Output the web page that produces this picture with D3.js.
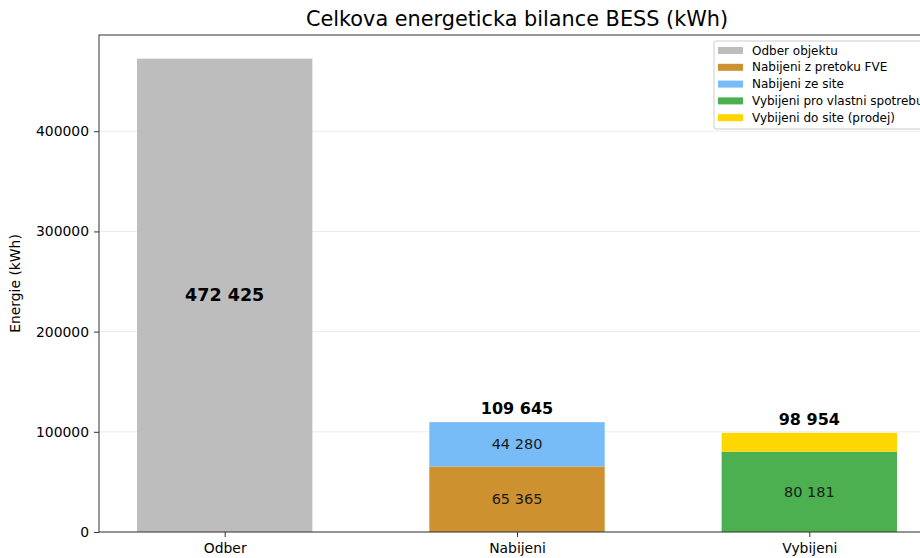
<!DOCTYPE html>
<html>
<head>
    <meta charset="utf-8">
    <title>Celkova energeticka bilance BESS</title>
    <script src="https://d3js.org/d3.v7.min.js"></script>
    <style>
        body { margin: 0; background: #fff; }
        svg { font-family: "DejaVu Sans", sans-serif; display: block; }
    </style>
</head>
<body>
    <script>
        // chart values
        var categories = ["Odber", "Nabijeni", "Vybijeni"];
        var odber = [472425, 0, 0];
        var nabijeniFve = [0, 65365, 0];
        var nabijeniSit = [0, 44280, 0];
        var vybijeniVlastni = [0, 0, 80181];
        var vybijeniProdej = [0, 0, 18773];
        var totals = [472425, 109645, 98954];
        var yTicks = [0, 100000, 200000, 300000, 400000];

        var seriesNames = ["Odber objektu", "Nabijeni z pretoku FVE", "Nabijeni ze site",
            "Vybijeni pro vlastni spotrebu", "Vybijeni do site (prodej)"];
        var seriesColors = ["#bdbdbd", "#cd9130", "#77bbf7", "#4caf50", "#ffd700"];
        var seriesData = [odber, nabijeniFve, nabijeniSit, vybijeniVlastni, vybijeniProdej];

        var width = 920, height = 558;
        // plot area (window.top is reserved, so use own names)
        var pLeft = 99, pTop = 35, pRight = 935, pBottom = 532;

        var svg = d3.select("body").append("svg")
            .attr("width", width)
            .attr("height", height);

        // matplotlib-like x range: bars of width 0.6, 5% margins
        var x = d3.scaleLinear().domain([-0.43, 2.43]).range([pLeft, pRight]);
        var bw = x(0.6) - x(0);
        var y = d3.scaleLinear().domain([0, 472425 * 1.05]).range([pBottom, pTop]);

        // grid
        svg.append("g").selectAll("line")
            .data(yTicks)
            .enter().append("line")
            .attr("x1", pLeft).attr("x2", pRight)
            .attr("y1", function(d) { return y(d); })
            .attr("y2", function(d) { return y(d); })
            .attr("stroke", "#e6e6e6")
            .attr("stroke-width", 0.8);

        // stacked bars
        var stacks = categories.map(function(c, i) {
            var base = 0;
            return seriesData.map(function(s, k) {
                var seg = { cat: i, k: k, y0: base, y1: base + s[i], v: s[i] };
                base += s[i];
                return seg;
            }).filter(function(d) { return d.v > 0; });
        });
        var segs = [].concat.apply([], stacks);

        svg.append("g").selectAll("rect")
            .data(segs)
            .enter().append("rect")
            .attr("x", function(d) { return x(d.cat) - bw / 2; })
            .attr("width", bw)
            .attr("y", function(d) { return y(d.y1); })
            .attr("height", function(d) { return y(d.y0) - y(d.y1); })
            .attr("fill", function(d) { return seriesColors[d.k]; });

        function fmt(v) { return d3.format(",")(v).replace(/,/g, " "); }

        // inner labels on stacked segments (small top segment unlabeled)
        svg.append("g").selectAll("text")
            .data(segs.filter(function(d) { return d.cat > 0 && d.v > 20000; }))
            .enter().append("text")
            .attr("x", function(d) { return x(d.cat); })
            .attr("y", function(d) { return y((d.y0 + d.y1) / 2); })
            .attr("text-anchor", "middle")
            .attr("dominant-baseline", "central")
            .attr("font-size", "14.5px")
            .attr("fill", "#1a1a1a")
            .text(function(d) { return fmt(d.v); });

        // Odber label in middle
        svg.append("text")
            .attr("x", x(0))
            .attr("y", y(totals[0] / 2))
            .attr("text-anchor", "middle")
            .attr("dominant-baseline", "central")
            .attr("font-size", "17.5px")
            .attr("font-weight", "bold")
            .text(fmt(totals[0]));

        // totals on top
        svg.append("g").selectAll("text")
            .data([1, 2])
            .enter().append("text")
            .attr("x", function(i) { return x(i); })
            .attr("y", function(i) { return y(totals[i]) - 8; })
            .attr("text-anchor", "middle")
            .attr("font-size", "16px")
            .attr("font-weight", "bold")
            .text(function(i) { return fmt(totals[i]); });

        // axes
        var yAxis = d3.axisLeft(y).tickValues(yTicks).tickFormat(d3.format("d")).tickSize(5).tickPadding(5);
        var gy = svg.append("g").attr("transform", "translate(" + pLeft + ",0)").call(yAxis);
        var xAxis = d3.axisBottom(x).tickValues([0, 1, 2]).tickFormat(function(i) { return categories[i]; }).tickSize(5).tickPadding(6);
        var gx = svg.append("g").attr("transform", "translate(0," + pBottom + ")").call(xAxis);
        [gy, gx].forEach(function(g) {
            g.selectAll("text").attr("font-size", "13.9px").attr("fill", "#000").attr("font-family", "DejaVu Sans");
            g.selectAll("line").attr("stroke", "#333");
            g.select(".domain").remove();
        });

        // spines
        svg.append("rect")
            .attr("x", pLeft).attr("y", pTop)
            .attr("width", pRight - pLeft).attr("height", pBottom - pTop)
            .attr("fill", "none").attr("stroke", "#333").attr("stroke-width", 1);

        svg.append("text")
            .attr("transform", "translate(20," + ((pTop + pBottom) / 2) + ") rotate(-90)")
            .attr("text-anchor", "middle")
            .attr("font-size", "13.9px")
            .text("Energie (kWh)");

        svg.append("text")
            .attr("x", (pLeft + pRight) / 2)
            .attr("y", 26)
            .attr("text-anchor", "middle")
            .attr("font-size", "20.8px")
            .text("Celkova energeticka bilance BESS (kWh)");

        // legend
        var lg = svg.append("g").attr("transform", "translate(714,41)");
        lg.append("rect")
            .attr("width", 260).attr("height", 88).attr("rx", 2)
            .attr("fill", "#fff").attr("fill-opacity", 0.8)
            .attr("stroke", "#cccccc").attr("stroke-width", 1);
        var items = lg.selectAll("g.item")
            .data(seriesNames)
            .enter().append("g")
            .attr("transform", function(d, i) { return "translate(4," + (9.5 + i * 16.8) + ")"; });
        items.append("rect")
            .attr("x", 0).attr("y", -3.5).attr("width", 25).attr("height", 7)
            .attr("fill", function(d, i) { return seriesColors[i]; });
        items.append("text")
            .attr("x", 34).attr("dominant-baseline", "central")
            .attr("font-size", "12px")
            .text(function(d) { return d; });
    </script>
</body>
</html>
